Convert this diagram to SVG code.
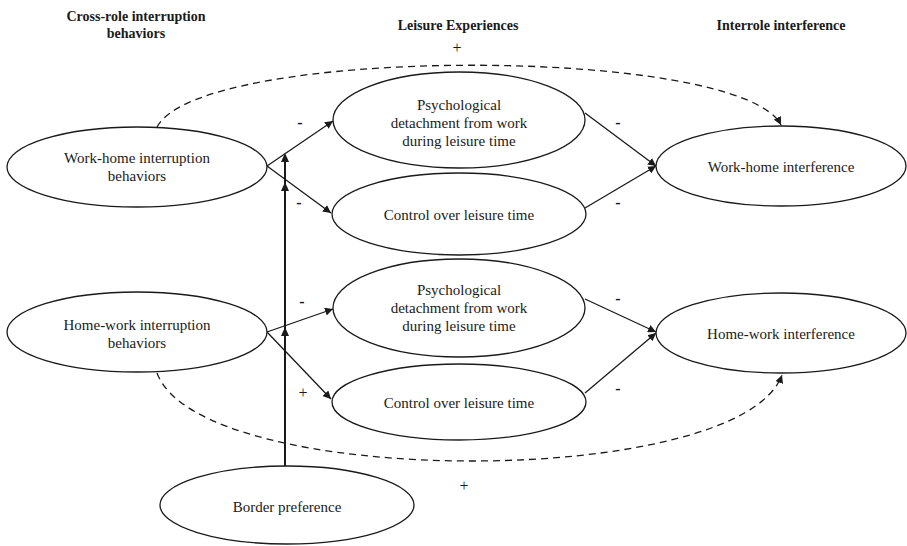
<svg xmlns="http://www.w3.org/2000/svg" width="907" height="546" viewBox="0 0 907 546">
<style>
.n{fill:#fff;stroke:#1a1a1a;stroke-width:1.3}
.t{font-family:"Liberation Serif","Times New Roman",serif;font-size:15px;fill:#1a1a1a;text-anchor:middle}
.h{font-family:"Liberation Serif","Times New Roman",serif;font-size:14px;font-weight:bold;fill:#1a1a1a;text-anchor:middle}
.a{stroke:#1a1a1a;stroke-width:1.3;fill:none;marker-end:url(#ah)}
.d{stroke:#1a1a1a;stroke-width:1.3;fill:none;stroke-dasharray:7 5;marker-end:url(#ah)}
.s{font-family:"Liberation Serif","Times New Roman",serif;font-size:16px;fill:#1a1a1a;text-anchor:middle}
.m{font-family:"Liberation Serif","Times New Roman",serif;font-size:16px;font-weight:bold;fill:#1a1a1a;text-anchor:middle}
</style>
<defs>
<marker id="ah" viewBox="0 0 10 10" refX="10" refY="5" markerWidth="8" markerHeight="8" markerUnits="userSpaceOnUse" orient="auto"><path d="M0,0 L10,5 L0,10 z" fill="#1a1a1a"/></marker>
</defs>
<rect width="907" height="546" fill="#fff"/>
<g id="titles">
<text class="h" x="136" y="21">Cross-role interruption</text>
<text class="h" x="136" y="38">behaviors</text>
<text class="h" x="458" y="30">Leisure Experiences</text>
<text class="h" x="781" y="30">Interrole interference</text>
</g>
<g id="connectors">
<path class="d" d="M157,127 C200,45 740,45 781,125"/>
<path class="d" d="M157,373 C200,490 740,490 782,375"/>
<line class="a" x1="267" y1="166" x2="333" y2="121"/>
<line class="a" x1="267" y1="166" x2="331" y2="213"/>
<line class="a" x1="267" y1="332" x2="333" y2="309"/>
<line class="a" x1="267" y1="332" x2="331" y2="399"/>
<line class="a" x1="585" y1="113" x2="656" y2="166"/>
<line class="a" x1="585" y1="208" x2="656" y2="166"/>
<line class="a" x1="585" y1="299" x2="656" y2="332"/>
<line class="a" x1="585" y1="393" x2="656" y2="333"/>
<line x1="285" y1="466" x2="285" y2="160" stroke="#1a1a1a" stroke-width="2"/>
<path d="M285,153 L281,162 L289,162 z" fill="#1a1a1a"/>
<path d="M285,182 L281,191 L289,191 z" fill="#1a1a1a"/>
<path d="M285,327 L281,336 L289,336 z" fill="#1a1a1a"/>
<text class="s" x="457" y="53">+</text>
<text class="m" x="300" y="128">-</text>
<text class="m" x="299" y="208">-</text>
<text class="m" x="302" y="307">-</text>
<text class="s" x="303" y="398">+</text>
<text class="m" x="618" y="128">-</text>
<text class="m" x="618" y="208">-</text>
<text class="m" x="618" y="304">-</text>
<text class="m" x="618" y="394">-</text>
<text class="s" x="464" y="491">+</text>
</g>
<g id="wh-behaviors">
<ellipse class="n" cx="137" cy="167" rx="130" ry="40"/>
<text class="t" x="137" y="163">Work-home interruption</text>
<text class="t" x="137" y="181">behaviors</text>
</g>
<g id="hw-behaviors">
<ellipse class="n" cx="137" cy="332" rx="130" ry="40"/>
<text class="t" x="137" y="330">Home-work interruption</text>
<text class="t" x="137" y="348">behaviors</text>
</g>
<g id="psych1">
<ellipse class="n" cx="459" cy="120" rx="126" ry="48"/>
<text class="t" x="459" y="110">Psychological</text>
<text class="t" x="459" y="128">detachment from work</text>
<text class="t" x="459" y="146">during leisure time</text>
</g>
<g id="control1">
<ellipse class="n" cx="459" cy="214" rx="127" ry="41"/>
<text class="t" x="459" y="220">Control over leisure time</text>
</g>
<g id="psych2">
<ellipse class="n" cx="459" cy="308" rx="126" ry="49"/>
<text class="t" x="459" y="295">Psychological</text>
<text class="t" x="459" y="313">detachment from work</text>
<text class="t" x="459" y="331">during leisure time</text>
</g>
<g id="control2">
<ellipse class="n" cx="459" cy="402" rx="127" ry="38"/>
<text class="t" x="459" y="408">Control over leisure time</text>
</g>
<g id="wh-interference">
<ellipse class="n" cx="781" cy="166" rx="125" ry="40"/>
<text class="t" x="781" y="172">Work-home interference</text>
</g>
<g id="hw-interference">
<ellipse class="n" cx="781" cy="333" rx="125" ry="40"/>
<text class="t" x="781" y="339">Home-work interference</text>
</g>
<g id="border">
<ellipse class="n" cx="287" cy="505" rx="127" ry="39"/>
<text class="t" x="287" y="512">Border preference</text>
</g>
</svg>
